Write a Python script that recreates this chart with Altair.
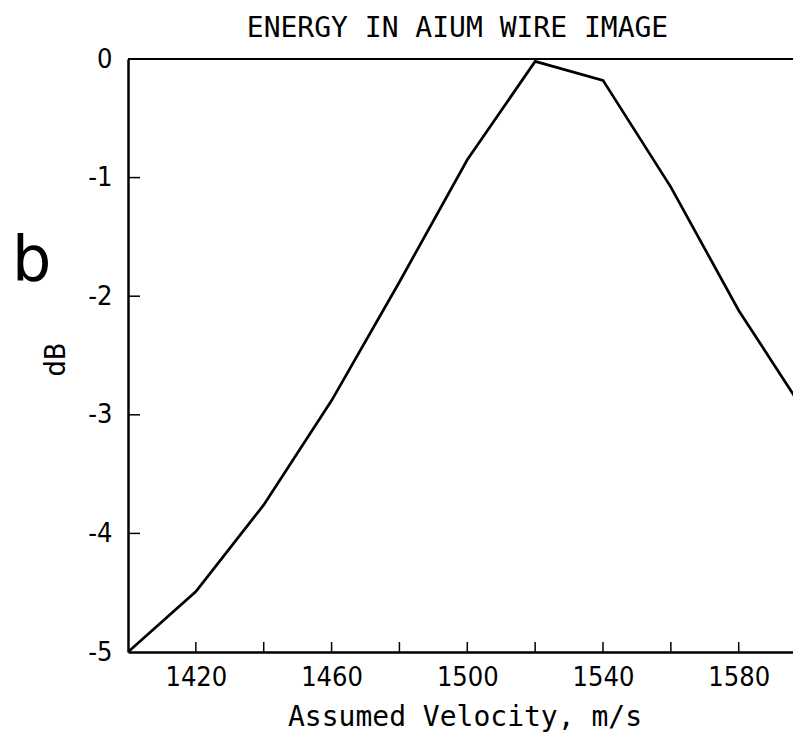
import altair as alt
import pandas as pd

# data
velocity = [1400, 1420, 1440, 1460, 1480, 1500, 1520, 1540, 1560, 1580, 1600]
energy_db = [-5.0, -4.49, -3.76, -2.88, -1.88, -0.85, -0.02, -0.18, -1.08, -2.12, -3.0]

x_ticks = [1420, 1440, 1460, 1480, 1500, 1520, 1540, 1560, 1580]
y_ticks = [-4, -3, -2, -1]
x_label_values = [1420, 1460, 1500, 1540, 1580]
y_label_values = [-5, -4, -3, -2, -1, 0]
title_text = ["ENERGY IN AIUM WIRE IMAGE"]
panel_text = ["b"]

W, H = 665, 593
MONO = "DejaVu Sans Mono"
NARROW = "Liberation Sans Narrow, DejaVu Sans Condensed, DejaVu Sans Mono"

df = pd.DataFrame({"v": velocity, "db": energy_db})
xt = pd.DataFrame({"v": x_ticks})
yt = pd.DataFrame({"db": y_ticks})

xscale = alt.Scale(domain=[1400, 1596], nice=False, zero=False)
yscale = alt.Scale(domain=[-5, 0], nice=False, zero=False)

line = alt.Chart(df).mark_line(color="black", strokeWidth=2.7, clip=True).encode(
    x=alt.X("v:Q", scale=xscale,
            axis=alt.Axis(title="Assumed Velocity, m/s", values=x_label_values,
                          labelExpr="datum.value + ''",
                          ticks=False, tickSize=0, grid=False,
                          domainColor="black", domainWidth=2.5,
                          labelFont=NARROW, labelFontSize=27, labelColor="black",
                          labelBaseline="alphabetic", labelPadding=33,
                          titleFont=MONO, titleFontSize=28, titleFontWeight="normal",
                          titleColor="black", titleBaseline="alphabetic",
                          titleY=73, titleX=W / 2 + 4)),
    y=alt.Y("db:Q", scale=yscale,
            axis=alt.Axis(title="dB", values=y_label_values,
                          labelExpr="datum.value + ''",
                          ticks=False, tickSize=0, grid=False,
                          domainColor="black", domainWidth=2.5,
                          labelFont=NARROW, labelFontSize=27, labelColor="black",
                          labelBaseline="middle", labelPadding=16,
                          titleFont=MONO, titleFontSize=28, titleFontWeight="normal",
                          titleColor="black", titleAngle=-90, titleBaseline="middle",
                          titleX=-72, titleY=H / 2 + 4)),
)

top_rule = alt.Chart(df).mark_rule(color="black", strokeWidth=2.2).encode(
    y=alt.datum(0, scale=yscale)
)

xtick_marks = alt.Chart(xt).mark_rule(color="black", strokeWidth=1.5).encode(
    x=alt.X("v:Q", scale=xscale), y=alt.value(H), y2=alt.value(H - 10)
)
ytick_marks = alt.Chart(yt).mark_rule(color="black", strokeWidth=1.5).encode(
    y=alt.Y("db:Q", scale=yscale), x=alt.value(0), x2=alt.value(12)
)

panel_letter = alt.Chart(pd.DataFrame({"t": panel_text})).mark_text(
    font="DejaVu Sans", fontSize=62, align="left", baseline="alphabetic", color="black"
).encode(text="t:N", x=alt.value(-116), y=alt.value(221))

title_mark = alt.Chart(pd.DataFrame({"t": title_text})).mark_text(
    font=MONO, fontSize=28, align="center", baseline="alphabetic", color="black"
).encode(text="t:N", x=alt.value(W / 2 - 3), y=alt.value(-22))

chart = alt.layer(top_rule, xtick_marks, ytick_marks, line, panel_letter, title_mark).properties(
    width=W, height=H,
    autosize=alt.AutoSizeParams(type="none"),
    padding={"left": 128, "top": 59, "right": 0, "bottom": 86},
).configure_view(stroke=None).configure(background="white")

chart.save("out.html", embed_options={"renderer": "svg", "actions": False})
